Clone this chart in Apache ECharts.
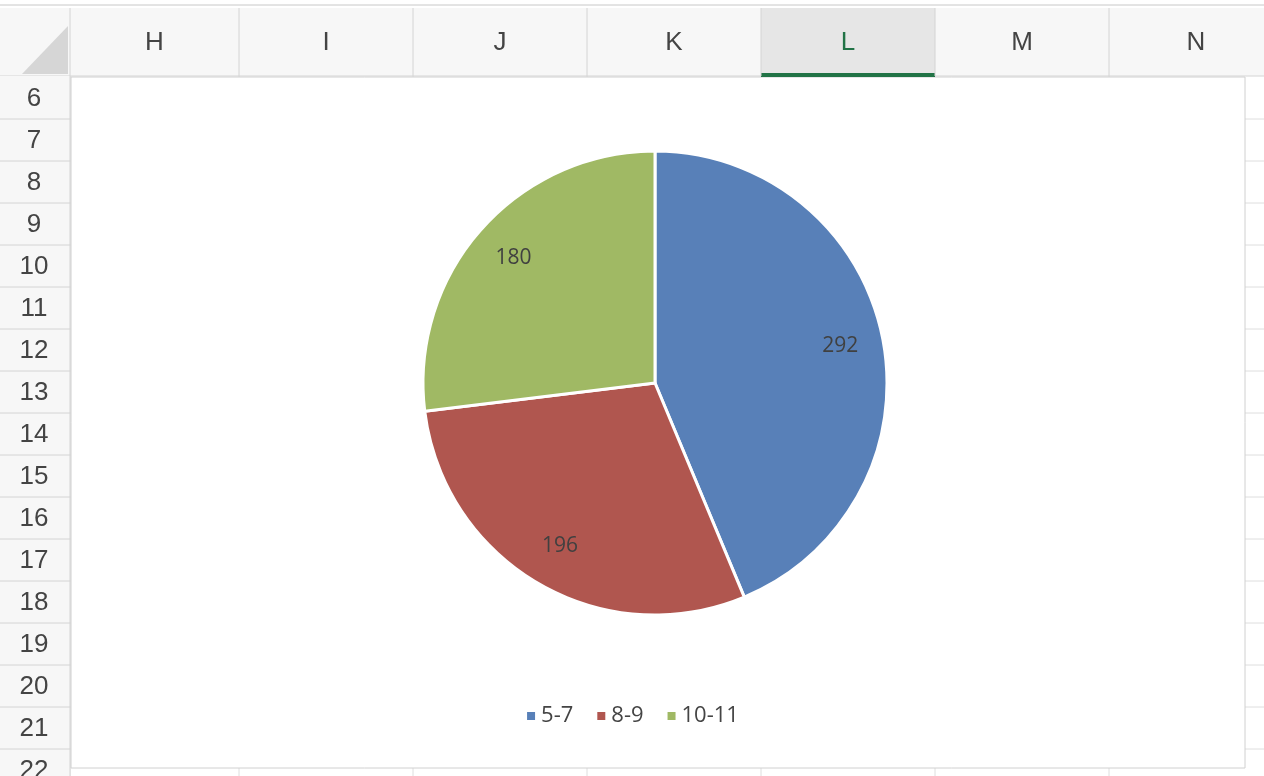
<!DOCTYPE html>
<html><head><meta charset="utf-8">
<script src="https://cdn.jsdelivr.net/npm/echarts@6/dist/echarts.min.js"></script>
<style>html,body{margin:0;padding:0;background:#fff}#c{width:1264px;height:776px}</style>
</head><body><div id="c"></div>
<script>
const categories = ['5-7', '8-9', '10-11'];
const values = [292, 196, 180];
const colors = ['#5880b8', '#b0564f', '#a0b964'];
const columns = ['H','I','J','K','L','M','N'];
const rows = [6,7,8,9,10,11,12,13,14,15,16,17,18,19,20,21,22];

const colX = [70,239,413,587,761,935,1109,1283];
const g = [];
g.push({type:'rect',shape:{x:0,y:0,width:1264,height:776},style:{fill:'#fff'},z:-10});
g.push({type:'line',shape:{x1:0,y1:5,x2:1264,y2:5},style:{stroke:'#c8c8c8',lineWidth:1}});
g.push({type:'rect',shape:{x:0,y:8,width:1264,height:68},style:{fill:'#f7f7f7'}});
g.push({type:'rect',shape:{x:761,y:8,width:174,height:68},style:{fill:'#e6e6e6'}});
g.push({type:'line',shape:{x1:0,y1:76,x2:1264,y2:76},style:{stroke:'#d4d4d4'}});
g.push({type:'rect',shape:{x:761,y:73,width:174,height:4},style:{fill:'#217346'}});
g.push({type:'polygon',shape:{points:[[68,26],[68,74],[22,74]]},style:{fill:'#d6d6d6'}});
columns.forEach((c,i)=>{
  g.push({type:'line',shape:{x1:colX[i],y1:8,x2:colX[i],y2:76},style:{stroke:'#d4d4d4'}});
  g.push({type:'line',shape:{x1:colX[i],y1:76,x2:colX[i],y2:776},style:{stroke:'#dedede'},z:-5});
  g.push({type:'text',x:(colX[i]+colX[i+1])/2,y:43,style:{text:c,font:'26px "Liberation Sans", Arial, sans-serif',fill:c==='L'?'#217346':'#444',align:'center',verticalAlign:'middle'}});
});
g.push({type:'rect',shape:{x:0,y:76,width:70,height:700},style:{fill:'#f7f7f7'}});
g.push({type:'line',shape:{x1:70,y1:76,x2:70,y2:776},style:{stroke:'#d4d4d4'}});
rows.forEach((r,i)=>{
  const y0 = 77 + i*42;
  g.push({type:'line',shape:{x1:0,y1:y0+42,x2:70,y2:y0+42},style:{stroke:'#d4d4d4'}});
  g.push({type:'line',shape:{x1:70,y1:y0+42,x2:1264,y2:y0+42},style:{stroke:'#dedede'},z:-5});
  g.push({type:'text',x:34,y:y0+22,style:{text:String(r),font:'26px "Liberation Sans", Arial, sans-serif',fill:'#444',align:'center',verticalAlign:'middle'}});
});
// chart area
g.push({type:'rect',shape:{x:71,y:77,width:1174,height:691},style:{fill:'#fff',stroke:'#d0d0d0',lineWidth:1},z:-1});

const data = categories.map((n,i)=>({name:n,value:values[i],itemStyle:{color:colors[i]}}));
const chart = echarts.init(document.getElementById('c'));
chart.setOption({
  animation:false,
  graphic:g,
  legend:{bottom:44,left:'center',itemWidth:10,itemHeight:10,icon:'rect',itemGap:22,
    textStyle:{fontSize:22,color:'#444',fontFamily:'"Open Sans", sans-serif'},data:categories},
  series:[
    {type:'pie',center:[655,383],radius:[0,232],startAngle:90,clockwise:true,
     data:data,label:{show:false},labelLine:{show:false},
     itemStyle:{borderColor:'#fff',borderWidth:3},emphasis:{disabled:true}},
    {type:'pie',center:[655,383],radius:[140,232],startAngle:90,clockwise:true,silent:true,
     data:categories.map((n,i)=>({name:n,value:values[i]})),
     itemStyle:{color:'rgba(0,0,0,0)'},
     label:{show:true,position:'inside',formatter:'{c}',fontSize:21,color:'#404040',fontFamily:'"Open Sans", sans-serif'},
     labelLine:{show:false},emphasis:{disabled:true}}
  ]
});
</script></body></html>
